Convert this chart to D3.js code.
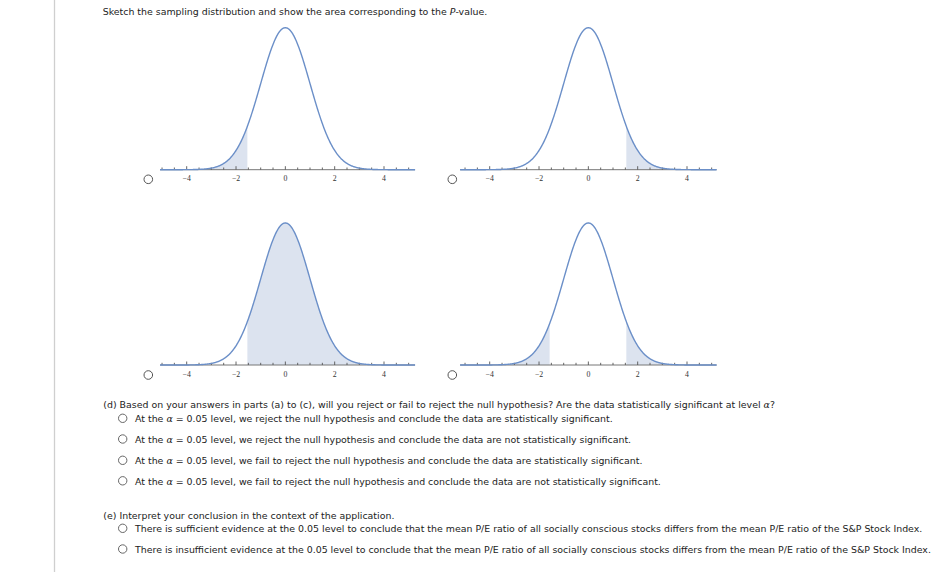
<!DOCTYPE html>
<html><head><meta charset="utf-8">
<script src="https://cdn.jsdelivr.net/npm/d3@7"></script>
<style>
html,body{margin:0;padding:0;background:#fff;}
svg{display:block;}
</style></head>
<body>
<svg id="c" width="942" height="573"></svg>
<script>
// ---- data ----
const tickLabels = [-4, -2, 0, 2, 4];
const minorTicks = d3.range(-5, 5.01, 0.5);
const panelNames = ["left tail", "right tail", "right of -z", "two tails"];
const shadeLow = [[-6], [1.54], [-1.54], [-6, 1.54]];
const shadeHigh = [[-1.54], [6], [6], [-1.57, 6]];
const axisExtentLeft = [-5.08, 5.26];
const axisExtentRight = [-5.2, 5.2];

// text content
const title = ["Sketch the sampling distribution and show the area corresponding to the ", "P", "-value."];
const partD = "(d) Based on your answers in parts (a) to (c), will you reject or fail to reject the null hypothesis? Are the data statistically significant at level ";
const optionsD = [
  " = 0.05 level, we reject the null hypothesis and conclude the data are statistically significant.",
  " = 0.05 level, we reject the null hypothesis and conclude the data are not statistically significant.",
  " = 0.05 level, we fail to reject the null hypothesis and conclude the data are statistically significant.",
  " = 0.05 level, we fail to reject the null hypothesis and conclude the data are not statistically significant."
];
const partE = "(e) Interpret your conclusion in the context of the application.";
const optionsE = [
  "There is sufficient evidence at the 0.05 level to conclude that the mean P/E ratio of all socially conscious stocks differs from the mean P/E ratio of the S&P Stock Index.",
  "There is insufficient evidence at the 0.05 level to conclude that the mean P/E ratio of all socially conscious stocks differs from the mean P/E ratio of the S&P Stock Index."
];

const svg = d3.select("#c");
const FONT = "'DejaVu Sans', Verdana, sans-serif";
const TXT = "#222";

// left gray rule
svg.append("line").attr("x1", 54.5).attr("x2", 54.5).attr("y1", 0).attr("y2", 572)
  .attr("stroke", "#cfcfcf").attr("stroke-width", 1.3);

// ---- plots ----
const pdf = x => Math.exp(-x * x / 2) / Math.sqrt(2 * Math.PI);
const layouts = [
  {x4: [186.7, 384], axisY: 169.7, ext: axisExtentLeft, radio: [148.3, 179.3]},
  {x4: [489.7, 687], axisY: 169.7, ext: axisExtentRight, radio: [452.3, 179.3]},
  {x4: [186.7, 384], axisY: 365, ext: axisExtentLeft, radio: [148.3, 375]},
  {x4: [489.7, 687], axisY: 365, ext: axisExtentRight, radio: [452.3, 375]}
];
panelNames.forEach((name, i) => {
  const L = layouts[i];
  const x = d3.scaleLinear().domain([-4, 4]).range(L.x4);
  const y = d3.scaleLinear().domain([0, pdf(0)]).range([L.axisY, L.axisY - 142]);
  const g = svg.append("g").attr("class", "panel").attr("data-name", name);
  const area = d3.area().x(d => x(d)).y0(y(0)).y1(d => y(pdf(d)));
  shadeLow[i].forEach((lo, k) => {
    const a = Math.max(lo, L.ext[0]), b = Math.min(shadeHigh[i][k], L.ext[1]);
    const pts = d3.range(a, b, 0.01).concat([b]);
    g.append("path").attr("d", area(pts)).attr("fill", "#dce3ef");
  });
  // axis
  g.append("line").attr("x1", x(L.ext[0])).attr("x2", x(L.ext[1]))
    .attr("y1", y(0)).attr("y2", y(0)).attr("stroke", "#777").attr("stroke-width", 1);
  g.selectAll("line.minor").data(minorTicks).join("line").attr("class", "minor")
    .attr("x1", d => x(d)).attr("x2", d => x(d))
    .attr("y1", y(0)).attr("y2", d => y(0) - (tickLabels.includes(d) ? 3.5 : 2.2))
    .attr("stroke", "#555").attr("stroke-width", 0.9);
  g.selectAll("text.tl").data(tickLabels).join("text").attr("class", "tl")
    .attr("x", d => x(d)).attr("y", y(0) + 11.5).attr("text-anchor", "middle")
    .attr("font-family", "'Liberation Serif', 'DejaVu Serif', serif").attr("font-size", 7.8)
    .attr("fill", "#333").text(d => d < 0 ? "\u2212" + Math.abs(d) : d);
  // curve
  const pts = d3.range(L.ext[0], L.ext[1], 0.02).concat([L.ext[1]]);
  g.append("path").attr("d", d3.line().x(d => x(d)).y(d => y(pdf(d)))(pts))
    .attr("fill", "none").attr("stroke", "#6b8fc8").attr("stroke-width", 1.4);
  // radio
  svg.append("circle").attr("cx", L.radio[0]).attr("cy", L.radio[1]).attr("r", 4.3)
    .attr("fill", "#fff").attr("stroke", "#555").attr("stroke-width", 1);
});

// ---- text helpers ----
function addText(x, y, parts, fs) {
  const t = svg.append("text").attr("x", x).attr("y", y).attr("font-family", FONT)
    .attr("font-size", fs).attr("fill", TXT);
  parts.forEach(p => {
    const s = t.append("tspan").text(p.s);
    if (p.alpha) s.attr("font-family", "'DejaVu Serif', serif").attr("font-style", "italic");
    if (p.it) s.attr("font-style", "italic");
  });
  return t;
}
function radio(cx, cy) {
  svg.append("circle").attr("cx", cx).attr("cy", cy).attr("r", 4.2)
    .attr("fill", "#fff").attr("stroke", "#666").attr("stroke-width", 1);
}

// determine a common font size from the first option (reference: spans 135 → 613)
const dY = [418.3, 439, 460.3, 480.8];
const probe = addText(135, dY[0] + 3.7, [{s: "At the "}, {s: "\u03B1", alpha: true}, {s: optionsD[0]}], 10);
const FS = 10 * (613.3 - 135) / probe.node().getComputedTextLength();
probe.remove();

addText(102.7, 15, [{s: title[0]}, {s: title[1], it: true}, {s: title[2]}], FS);
addText(103.3, 407.7, [{s: partD}, {s: "\u03B1", alpha: true}, {s: "?"}], FS);
optionsD.forEach((o, i) => {
  radio(122.7, dY[i]);
  addText(135, dY[i] + 3.7, [{s: "At the "}, {s: "\u03B1", alpha: true}, {s: o}], FS);
});
addText(103.3, 518.7, [{s: partE}], FS);
const eY = [528.3, 549];
optionsE.forEach((o, i) => {
  radio(122.7, eY[i]);
  addText(135, eY[i] + 3.7, [{s: o}], FS);
});
</script>
</body></html>
